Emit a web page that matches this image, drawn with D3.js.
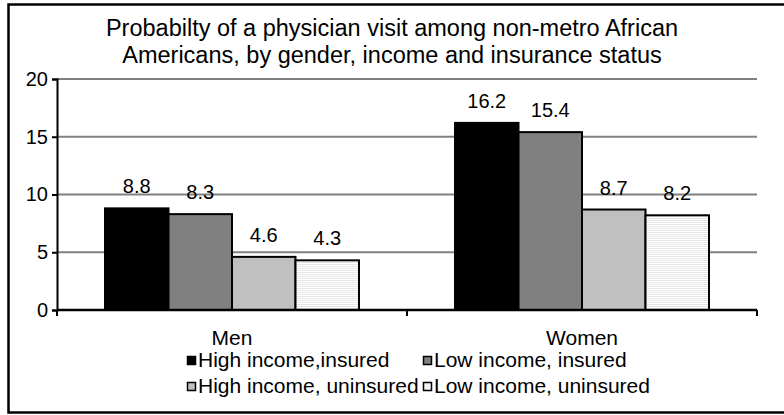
<!DOCTYPE html>
<html>
<head>
<meta charset="utf-8">
<script src="https://cdn.jsdelivr.net/npm/d3@7"></script>
<style>
  body { margin: 0; background: #fff; }
  svg { display: block; font-family: "Liberation Sans", Arial, sans-serif; }
</style>
</head>
<body>
<div id="container"></div>
<script>
// data
const categories = ["Men", "Women"];
const series = ["High income,insured", "Low income, insured", "High income, uninsured", "Low income, uninsured"];
const menValues = [8.8, 8.3, 4.6, 4.3];
const womenValues = [16.2, 15.4, 8.7, 8.2];
const yTicks = [0, 5, 10, 15, 20];
const titleLines = ["Probabilty of a physician visit among non-metro African",
                    "Americans, by gender, income and insurance status"];

const fills = ["#000000", "#808080", "#c0c0c0", "url(#stripes)"];

const w = 784, h = 415;
const plotLeft = 57, plotRight = 757, plotTop = 79, plotBottom = 310;

const svg = d3.select("#container").append("svg")
  .attr("width", w)
  .attr("height", h);

// striped fill for the last series
const pat = svg.append("defs").append("pattern")
  .attr("id", "stripes")
  .attr("patternUnits", "userSpaceOnUse")
  .attr("width", 4).attr("height", 2);
pat.append("rect").attr("width", 4).attr("height", 2).attr("fill", "#ffffff");
pat.append("rect").attr("width", 4).attr("height", 1).attr("fill", "#e6e6e6");

// outer frame (right side runs off the picture)
svg.append("rect")
  .attr("x", 8.5).attr("y", 4.5)
  .attr("width", 780).attr("height", 408)
  .attr("fill", "none")
  .attr("stroke", "#000")
  .attr("stroke-width", 2.5);

// title
svg.append("g").selectAll("text")
  .data(titleLines)
  .enter().append("text")
  .attr("x", 392)
  .attr("y", (d, i) => 36 + i * 27)
  .attr("text-anchor", "middle")
  .attr("font-size", "23.5px")
  .text(d => d);

const x0 = d3.scaleBand().domain(categories).range([plotLeft, plotRight]);
const x1 = d3.scaleBand().domain(series).range([0, x0.bandwidth()]).paddingOuter(0.756);
const y = d3.scaleLinear().domain([0, 20]).range([plotBottom, plotTop]);

// gridlines
svg.append("g").selectAll("line")
  .data(yTicks.filter(d => d > 0))
  .enter().append("line")
  .attr("x1", plotLeft).attr("x2", plotRight)
  .attr("y1", d => y(d)).attr("y2", d => y(d))
  .attr("stroke", "#808080")
  .attr("stroke-width", 2);

const rows = categories.map((c, i) => ({
  cat: c,
  vals: (i == 0 ? menValues : womenValues)
}));

// bars
const groups = svg.append("g").selectAll("g")
  .data(rows)
  .enter().append("g")
  .attr("transform", d => "translate(" + x0(d.cat) + ",0)");

groups.selectAll("rect")
  .data(d => d.vals.map((v, i) => ({ s: series[i], v: v, i: i })))
  .enter().append("rect")
  .attr("x", d => x1(d.s))
  .attr("y", d => y(d.v))
  .attr("width", x1.bandwidth())
  .attr("height", d => y(0) - y(d.v))
  .attr("fill", d => fills[d.i])
  .attr("stroke", "#000")
  .attr("stroke-width", 2);

groups.selectAll("text")
  .data(d => d.vals.map((v, i) => ({ s: series[i], v: v })))
  .enter().append("text")
  .attr("x", d => x1(d.s) + x1.bandwidth() / 2)
  .attr("y", d => y(d.v) - 15)
  .attr("text-anchor", "middle")
  .attr("font-size", "20px")
  .text(d => d.v);

// axes
const yAxis = d3.axisLeft(y).tickValues(yTicks).tickSize(5).tickPadding(4);
const gy = svg.append("g")
  .attr("transform", "translate(" + plotLeft + ",0)")
  .call(yAxis);
gy.select(".domain").attr("stroke-width", 2);
gy.selectAll(".tick line").attr("stroke-width", 2);
gy.selectAll("text").attr("font-size", "20px").attr("font-family", "Liberation Sans, Arial, sans-serif").attr("fill", "#000");

const xAxis = d3.axisBottom(x0).tickSize(0).tickPadding(0);
const gx = svg.append("g")
  .attr("transform", "translate(0," + plotBottom + ")")
  .call(xAxis);
gx.select(".domain").attr("stroke-width", 2.5).attr("d", "M" + plotLeft + ",0H" + plotRight);
gx.selectAll("text")
  .attr("y", 35)
  .attr("dy", null)
  .attr("font-size", "21px")
  .attr("font-family", "Liberation Sans, Arial, sans-serif")
  .attr("fill", "#000");

// category boundary ticks
gx.append("g").selectAll("line")
  .data(categories.map(c => x0(c)).concat([plotRight]))
  .enter().append("line")
  .attr("x1", d => d).attr("x2", d => d)
  .attr("y1", 0).attr("y2", 6)
  .attr("stroke", "#000")
  .attr("stroke-width", 2);

// legend
const legendPos = [[187, 367], [423, 367], [187, 393], [423, 393]];
const legend = svg.append("g").selectAll("g")
  .data(series)
  .enter().append("g")
  .attr("transform", (d, i) => "translate(" + legendPos[i][0] + "," + legendPos[i][1] + ")");

legend.append("rect")
  .attr("x", 0.5).attr("y", -10.5)
  .attr("width", 8).attr("height", 8)
  .attr("fill", (d, i) => fills[i] == "url(#stripes)" ? "#f4f4f4" : fills[i])
  .attr("stroke", "#000")
  .attr("stroke-width", 1.5);

legend.append("text")
  .attr("x", 11)
  .attr("y", 0)
  .attr("font-size", "21px")
  .text(d => d);
</script>
</body>
</html>
